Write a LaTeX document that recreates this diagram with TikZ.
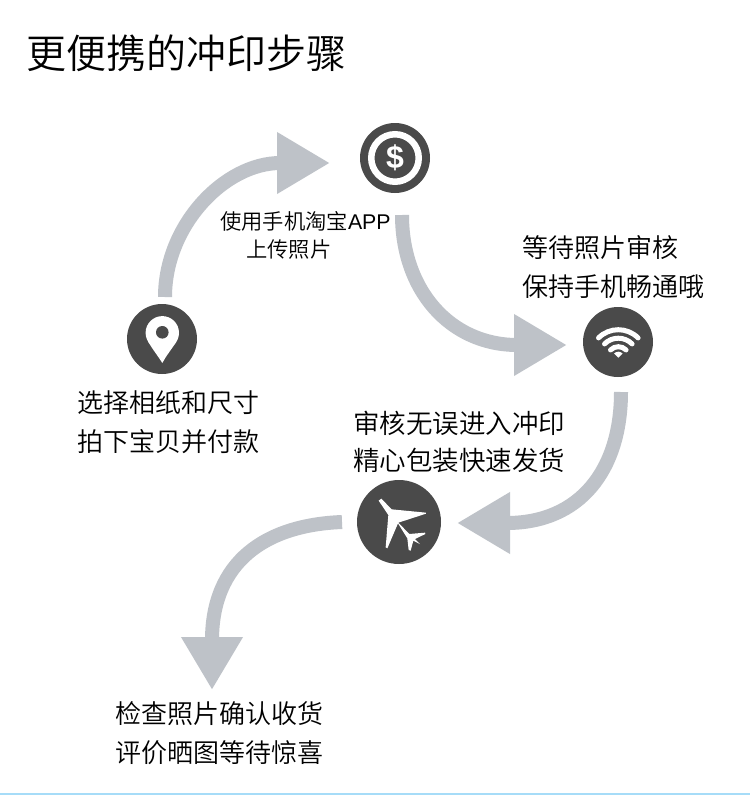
\documentclass[tikz,border=0pt]{standalone}
\usepackage{fontspec}
\setmainfont{Noto Sans CJK SC DemiLight}
\usetikzlibrary{arrows.meta}
\definecolor{icondark}{HTML}{4A4A4A}
\definecolor{flowgray}{HTML}{BEC2C8}
\definecolor{baseblue}{HTML}{A6DCF8}
\tikzset{
  iconcircle/.style={circle,fill=icondark,inner sep=0pt,outer sep=0pt},
  flow/.style={draw=flowgray,line width=14pt,-{Triangle[length=53pt,width=58pt,fill=flowgray]}},
  labeltext/.style={anchor=west,align=left,inner sep=0pt,text=black,font=\fontsize{26}{39}\selectfont},
  widetext/.style={anchor=west,align=left,inner sep=0pt,text=black,font=\fontsize{26.5}{37.5}\selectfont},
  smalltext/.style={anchor=west,align=left,inner sep=0pt,text=black,font=\fontsize{21.3}{28}\selectfont},
  titletext/.style={anchor=west,inner sep=0pt,text=black,font=\fontsize{40}{48}\selectfont}
}
\begin{document}
\begin{tikzpicture}[x=1pt,y=-1pt]
\useasboundingbox (0,0) rectangle (750,795);
\fill[white] (0,0) rectangle (750,795);
\fill[baseblue] (0,793) rectangle (750,795);

\node[titletext] (title) at (26,53) {更便携的冲印步骤};

\node[iconcircle,minimum size=70pt] (pin) at (162,339) {};
\node[iconcircle,minimum size=70pt] (coin) at (395,158) {};
\node[iconcircle,minimum size=70pt] (wifi) at (618,342) {};
\node[iconcircle,minimum size=84pt] (plane) at (399,522) {};
\coordinate (endtip) at (212,690);

% connectors
\draw[flow] ([xshift=3pt,yshift=7pt]pin.north) .. controls (165,225) and (225,163) .. ([xshift=-30pt,yshift=-5pt]coin.west);
\draw[flow] ([xshift=7pt,yshift=-22pt]coin.south) .. controls (402,290) and (450,345) .. ([xshift=-16pt,yshift=-3pt]wifi.west);
\draw[flow] ([xshift=3pt,yshift=-15pt]wifi.south) .. controls (621,470) and (580,523) .. ([xshift=16pt,yshift=-1pt]plane.east);
\draw[flow] ([xshift=-15pt]plane.west) .. controls (265,525) and (212,562) .. (endtip);

% pin icon
\fill[white] (162.3,332.8) circle[radius=16.7];
\fill[white] (148.2,341.7) .. controls (153,350) and (158,356) .. (162.3,363) .. controls (166,356) and (171,350) .. (176.4,341.7) -- cycle;
\fill[icondark] (162.3,332.3) circle[radius=6.3];

% coin icon
\draw[white,line width=6.5pt] (coin) circle[radius=23.75];
\node[inner sep=0pt,text=white,font={\fontspec{Liberation Sans Bold}\fontsize{32}{32}\selectfont}] (dollar) at (coin) {\$};

% wifi icon
\coordinate (wc) at (618.3,357.7);
\foreach \r in {28,19.5,11}
  \draw[white,line width=5pt,line cap=round] (wc) ++(225:\r) arc[start angle=225,end angle=315,radius=\r];
\fill[white] (wc) -- ++(225:6) arc[start angle=225,end angle=315,radius=6] -- cycle;

% plane icon
\begin{scope}[shift={(370,490)},x=0.3333pt,y=-0.3333pt]
\fill[white] (26,32) -- (34,26) -- (65,58) -- (168,68) -- (168,71) -- (85,98) -- (118,132) -- (165,128) -- (166,132) -- (135,147) -- (150,162) -- (130,152) -- (122,182) -- (116,180) -- (112,145) -- (84,100) -- (52,175) -- (47,172) -- (55,75) -- cycle;
\end{scope}

% labels
\node[smalltext] (l1) at (220,235) {使用手机淘宝{\fontspec{Liberation Sans}APP}\\\hspace*{26pt}上传照片};
\node[labeltext] (l2) at (77,422) {选择相纸和尺寸\\拍下宝贝并付款};
\node[labeltext] (l3) at (522,267) {等待照片审核\\保持手机畅通哦};
\node[widetext] (l4) at (353,442) {审核无误进入冲印\\精心包装快速发货};
\node[labeltext] (l5) at (115,733) {检查照片确认收货\\评价晒图等待惊喜};
\end{tikzpicture}
\end{document}
